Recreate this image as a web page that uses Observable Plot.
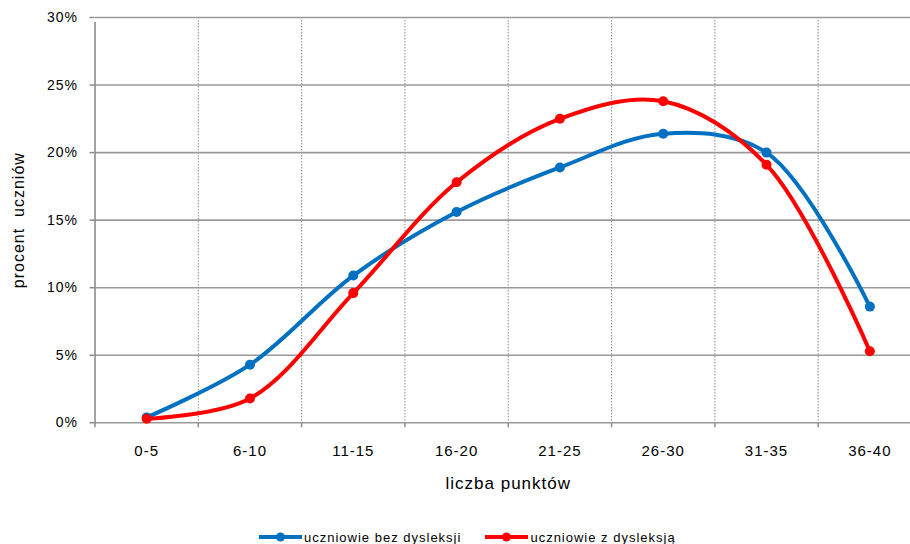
<!DOCTYPE html>
<html>
<head>
<meta charset="utf-8">
<script src="https://cdn.jsdelivr.net/npm/d3@7"></script>
<script src="https://cdn.jsdelivr.net/npm/@observablehq/plot@0.6"></script>
<style>
  html, body { margin: 0; padding: 0; background: #fff; }
  #wrap { position: relative; width: 910px; height: 544px; overflow: hidden; font-family: "Liberation Sans", Arial, sans-serif; }
  #chart svg text { letter-spacing: 1px; }
  #legend { position: absolute; left: 259px; top: 528px; height: 18px; display: flex; align-items: center; font-size: 13px; letter-spacing: 1px; color: #000; }
  .item { display: flex; align-items: center; margin-right: 24px; }
  .item svg { margin-right: 2px; }
</style>
</head>
<body>
<div id="wrap"><div id="chart"></div><div id="legend"></div></div>
<script>
const categories = ["0-5", "6-10", "11-15", "16-20", "21-25", "26-30", "31-35", "36-40"];
const bezDysleksji = [0.4, 4.3, 10.9, 15.6, 18.9, 21.4, 20.0, 8.6];
const zDysleksja = [0.3, 1.8, 9.6, 17.8, 22.5, 23.8, 19.1, 5.3];
const seriesNames = ["uczniowie bez dysleksji", "uczniowie z dysleksją"];
const seriesColors = ["#0070C0", "#FF0000"];
const yTicks = [0, 5, 10, 15, 20, 25, 30];

const rowsBez = categories.map((c, i) => ({i, cat: c, v: bezDysleksji[i]}));
const rowsZ = categories.map((c, i) => ({i, cat: c, v: zDysleksja[i]}));
const boundaries = categories.slice(1).map((c, i) => i + 0.5);
const tickPos = [-0.5, ...boundaries, 7.5];

const chart = Plot.plot({
  width: 910,
  height: 520,
  marginTop: 17,
  marginBottom: 97.7,
  marginLeft: 94.5,
  marginRight: 0,
  style: {fontFamily: "'Liberation Sans', Arial, sans-serif", fontSize: "14px", color: "#000", background: "#fff"},
  x: {type: "linear", domain: [-0.5, 7.5], range: [94.5, 921]},
  y: {type: "linear", domain: [0, 30]},
  marks: [
    Plot.ruleX(boundaries, {stroke: "#8c8c8c", strokeWidth: 1, strokeDasharray: "1.5,1.5"}),
    Plot.ruleY(yTicks, {stroke: "#9a9a9a", strokeWidth: 1.6}),
    Plot.ruleX([-0.5], {y1: 0, y2: 30, stroke: "#8c8c8c", strokeWidth: 1.6, insetBottom: -5}),
    Plot.axisX({ticks: tickPos, tickSize: 5, tickFormat: () => "", stroke: "#8c8c8c", strokeWidth: 1.5, strokeOpacity: 1, label: null}),
    Plot.axisY({ticks: yTicks, tickSize: 5, tickPadding: 12, tickFormat: d => d + "%", stroke: "#8c8c8c", strokeWidth: 1.5, strokeOpacity: 1, label: null, fontSize: 14}),
    Plot.text(categories, {x: (d, i) => i, y: () => 0, dy: 28, fontSize: 15, fill: "#000"}),
    Plot.text(["liczba punktów"], {x: 3.5, frameAnchor: "bottom", dy: 66, fontSize: 17, fill: "#000"}),
    Plot.text(["procent  uczniów"], {frameAnchor: "left", textAnchor: "middle", dx: -76.5, rotate: -90, fontSize: 16, fill: "#000"}),
    Plot.line(rowsBez, {x: "i", y: "v", stroke: seriesColors[0], strokeWidth: 4, curve: "catmull-rom"}),
    Plot.line(rowsZ, {x: "i", y: "v", stroke: seriesColors[1], strokeWidth: 4, curve: "catmull-rom"}),
    Plot.dot(rowsBez, {x: "i", y: "v", fill: seriesColors[0], r: 5}),
    Plot.dot(rowsZ, {x: "i", y: "v", fill: seriesColors[1], r: 5})
  ]
});
document.getElementById("chart").appendChild(chart);

const legend = document.getElementById("legend");
seriesNames.forEach((name, k) => {
  const item = document.createElement("div");
  item.className = "item";
  item.innerHTML = `<svg width="43" height="10"><line x1="0" y1="5" x2="43" y2="5" stroke="${seriesColors[k]}" stroke-width="4"/><circle cx="21.5" cy="5" r="4.5" fill="${seriesColors[k]}"/></svg><span>${name}</span>`;
  legend.appendChild(item);
});
</script>
</body>
</html>
